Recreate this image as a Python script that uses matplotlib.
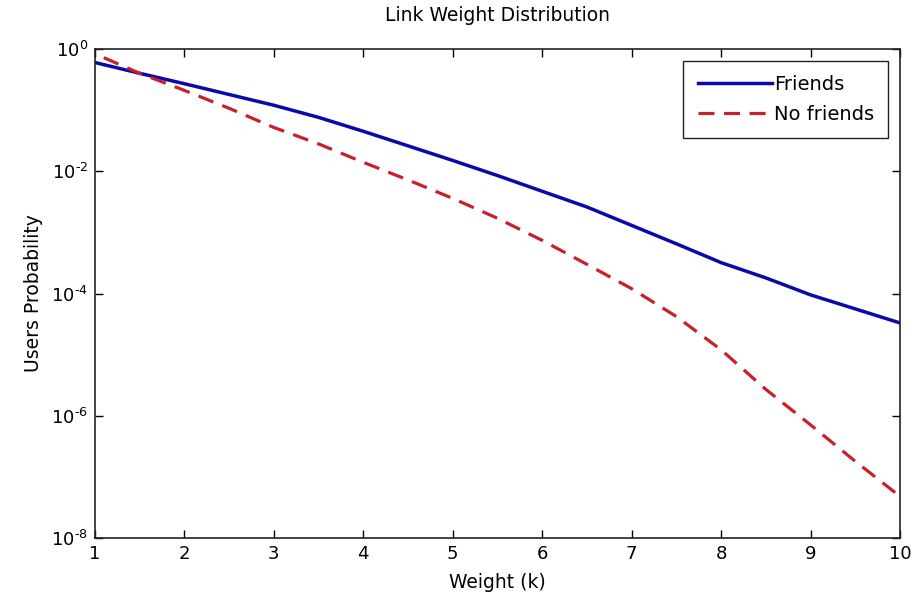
import matplotlib
matplotlib.use("Agg")
from matplotlib import pyplot as plt
from matplotlib.ticker import NullLocator, FuncFormatter
import numpy as np

plt.rcParams["font.family"] = ["DejaVu Sans"]
plt.rcParams["mathtext.fontset"] = "dejavusans"
plt.rcParams["axes.unicode_minus"] = False

# values
weight_friends = [1, 1.5, 2, 2.5, 3, 3.5, 4, 4.5, 5, 5.5, 6, 6.5, 7, 7.5, 8, 8.5, 9, 9.5, 10]
prob_friends = [6.0e-1, 4.0e-1, 2.7e-1, 1.8e-1, 1.2e-1, 7.6e-2, 4.5e-2, 2.6e-2, 1.5e-2,
                8.5e-3, 4.7e-3, 2.6e-3, 1.3e-3, 6.5e-4, 3.2e-4, 1.8e-4, 9.5e-5, 5.6e-5, 3.3e-5]

weight_nofriends = [1.1, 1.5, 2, 2.5, 3, 3.5, 4, 4.5, 5, 5.5, 6, 6.5, 7, 7.5, 8, 8.5, 9, 9.5, 10]
prob_nofriends = [7.2e-1, 4.0e-1, 2.1e-1, 1.07e-1, 5.2e-2, 2.8e-2, 1.4e-2, 7.2e-3, 3.6e-3,
                  1.7e-3, 7.4e-4, 3.0e-4, 1.2e-4, 4.2e-5, 1.2e-5, 2.7e-6, 7.1e-7, 1.8e-7, 4.8e-8]

xticks = list(range(1, 11))
yticks = [1e-8, 1e-6, 1e-4, 1e-2, 1e0]


def pow10(v, pos):
    n = int(round(np.log10(v)))
    return r"$10^{\text{%d}}$" % n


fig = plt.figure(figsize=(9.12, 6.04), dpi=100)
ax = fig.add_axes([0.104, 0.109, 0.883, 0.81])

ax.plot(weight_friends, prob_friends, color="#0a0aa8", lw=2.5, label="Friends")
ax.plot(weight_nofriends, prob_nofriends, color="#c8202a", lw=2.3,
        dashes=(5, 3), label="No friends")

ax.set_yscale("log")
ax.set_xlim(1, 10)
ax.set_ylim(1e-8, 1e0)
ax.set_xticks(xticks)
ax.set_yticks(yticks)
ax.yaxis.set_major_formatter(FuncFormatter(pow10))
ax.yaxis.set_minor_locator(NullLocator())
ax.tick_params(direction="in", top=True, right=True, length=6, width=1,
               labelsize=13, pad=5)
for s in ax.spines.values():
    s.set_linewidth(1.2)
    s.set_color("#222222")

ax.set_title("Link Weight Distribution", fontsize=13.5, pad=20)
ax.set_xlabel("Weight (k)", fontsize=13.5, labelpad=7)
ax.set_ylabel("Users Probability", fontsize=13.5, labelpad=6)

leg = ax.legend(loc="upper right", fontsize=14, handlelength=3.8,
                fancybox=False, framealpha=1, edgecolor="#222222",
                borderaxespad=0.6, borderpad=0.75, handletextpad=0.1,
                labelspacing=0.55)
leg.get_frame().set_linewidth(1.0)

fig.savefig("out.png", dpi=100)
